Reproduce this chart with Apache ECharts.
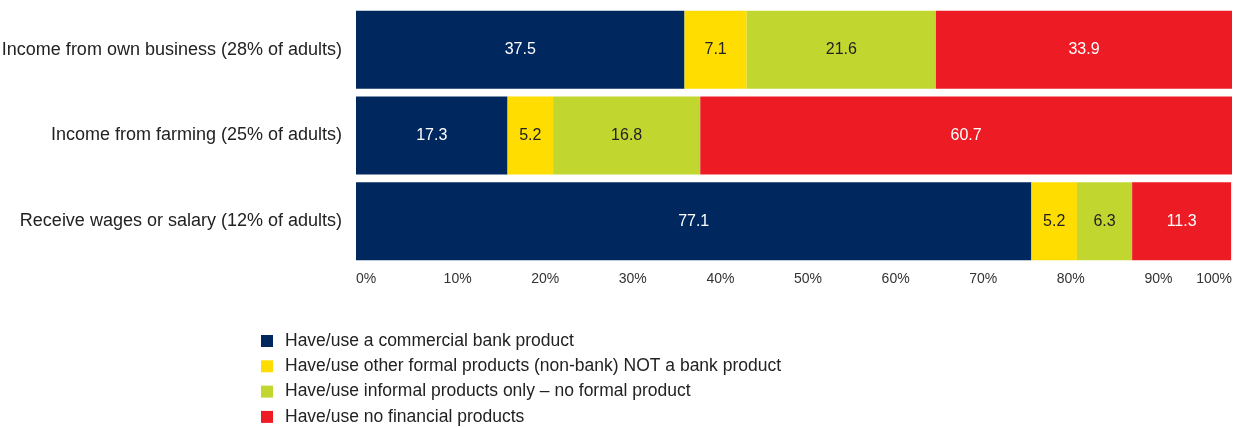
<!DOCTYPE html>
<html>
<head>
<meta charset="utf-8">
<script src="https://cdn.jsdelivr.net/npm/echarts@6/dist/echarts.min.js"></script>
<style>
  html, body { margin: 0; padding: 0; background: #fff; }
  #chart { width: 1247px; height: 427px; }
</style>
</head>
<body>
<div id="chart"></div>
<script>
// Income source groups (top to bottom)
const categories = [
  'Income from own business (28% of adults)',
  'Income from farming (25% of adults)',
  'Receive wages or salary (12% of adults)'
];
const seriesNames = [
  'Have/use a commercial bank product',
  'Have/use other formal products (non-bank) NOT a bank product',
  'Have/use informal products only \u2013 no formal product',
  'Have/use no financial products'
];
// Percentage of adults in each group, per product usage level
const bankProduct     = [37.5, 17.3, 77.1];
const otherFormal     = [7.1, 5.2, 5.2];
const informalOnly    = [21.6, 16.8, 6.3];
const noProducts      = [33.9, 60.7, 11.3];
const tickValues = [0, 10, 20, 30, 40, 50, 60, 70, 80, 90, 100];

const colors = ['#00285E', '#FFDD00', '#C1D72F', '#ED1C24'];
const labelColors = ['#ffffff', '#222222', '#222222', '#ffffff'];
const values = [bankProduct, otherFormal, informalOnly, noProducts];
const FONT = '"Liberation Sans", Arial, sans-serif';

// One legend row per series, stacked in a single column
const legends = seriesNames.map((name, i) => ({
  orient: 'vertical',
  left: 261, top: 332 + i * 25.3,
  itemWidth: 12, itemHeight: 12,
  icon: 'rect',
  padding: 0,
  textStyle: { fontFamily: FONT, fontSize: 17.5, color: '#222', padding: [0, 0, 0, 7] },
  data: [name]
}));

const chart = echarts.init(document.getElementById('chart'), null, { renderer: 'canvas' });
chart.setOption({
  animation: false,
  textStyle: { fontFamily: FONT },
  grid: {
    left: 356, right: 15, top: 7, bottom: 163,
    containLabel: false, outerBoundsMode: 'none'
  },
  xAxis: {
    type: 'value',
    min: 0, max: 100, interval: 10,
    splitLine: { show: false },
    axisLine: { show: false },
    axisTick: { show: false },
    axisLabel: {
      formatter: v => tickValues.includes(v) ? v + '%' : '',
      fontFamily: FONT, fontSize: 14, color: '#333',
      align: 'left', alignMaxLabel: 'right', margin: 8
    }
  },
  yAxis: {
    type: 'category',
    data: categories,
    inverse: true,
    axisLine: { show: false },
    axisTick: { show: false },
    axisLabel: { fontFamily: FONT, fontSize: 18, color: '#222', margin: 14 }
  },
  legend: legends,
  series: seriesNames.map((name, i) => ({
    name,
    type: 'bar',
    stack: 'total',
    data: values[i],
    barCategoryGap: '9%',
    itemStyle: { color: colors[i] },
    label: {
      show: true,
      position: 'inside',
      formatter: p => p.value.toFixed(1),
      fontFamily: FONT, fontSize: 16, color: labelColors[i]
    }
  }))
});
</script>
</body>
</html>
